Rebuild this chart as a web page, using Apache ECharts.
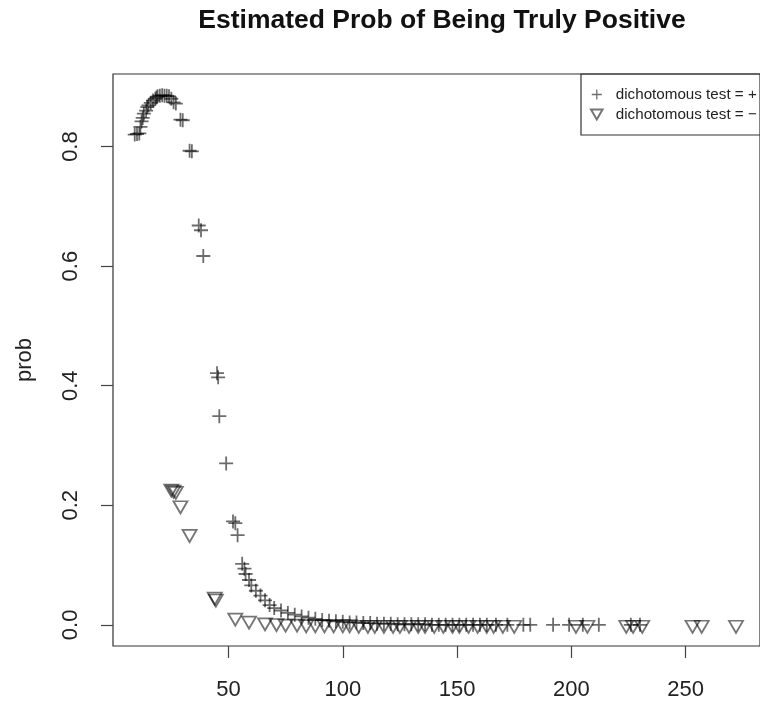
<!DOCTYPE html>
<html>
<head>
<meta charset="utf-8">
<script src="https://cdn.jsdelivr.net/npm/echarts@6/dist/echarts.min.js"></script>
<style>
html,body{margin:0;padding:0;background:#fff;}
#chart{width:760px;height:703px;}
</style>
</head>
<body>
<div id="chart"></div>
<script>
// ---- data ----
const titleText = 'Estimated Prob of Being Truly Positive';
const yName = 'prob';
const seriesNames = ['dichotomous test = +', 'dichotomous test = \u2212'];
const xTicks = [50, 100, 150, 200, 250];
const yTicks = [0, 0.2, 0.4, 0.6, 0.8];

const plusX = [9, 10, 11, 11.5, 12, 12.5, 13, 14, 14.5, 15, 16, 17, 18, 18.5, 19, 20, 21, 22, 23, 24, 25, 26, 27, 29, 30, 33, 34, 37, 38, 39,
  45, 45.5, 46, 49, 52, 53, 54, 56, 57, 57.5, 59, 60, 62, 64, 66, 68, 70, 73, 76, 79, 82, 85, 88, 91, 94, 97, 100, 103, 106, 109,
  112, 115, 118, 121, 124, 127, 130, 133, 136, 139, 142, 145, 148, 151, 154, 157, 160, 163, 167, 172, 179, 182, 192, 199, 205, 212, 226, 230];
const plusY = [0.820, 0.821, 0.822, 0.833, 0.842, 0.848, 0.855, 0.860, 0.866, 0.869, 0.873, 0.877, 0.880, 0.882, 0.884, 0.885, 0.886, 0.885, 0.885, 0.884, 0.880, 0.874, 0.872, 0.845, 0.844, 0.793, 0.792, 0.668, 0.660, 0.617,
  0.421, 0.414, 0.349, 0.270, 0.173, 0.170, 0.150, 0.102, 0.094, 0.085, 0.075, 0.066, 0.057, 0.049, 0.041, 0.033, 0.028, 0.024, 0.020, 0.017, 0.014, 0.012, 0.010, 0.008, 0.007, 0.006, 0.005, 0.004, 0.004, 0.003,
  0.003, 0.002, 0.002, 0.002, 0.001, 0.001, 0.001, 0.001, 0.001, 0, 0, 0, 0, 0, 0, 0, 0, 0, 0, 0, 0, 0, 0, 0, 0, 0, 0, 0];

const triX = [25, 26, 27, 29, 33, 44, 44.5, 53, 59, 66, 71, 75, 80, 84, 88, 92, 96, 100, 103, 107, 111, 114, 118, 122, 125, 129, 133, 136,
  140, 144, 148, 151, 155, 159, 163, 166, 170, 175, 202, 207, 224, 227, 231, 253, 257, 272];
const triY = [0.228, 0.226, 0.224, 0.200, 0.152, 0.047, 0.044, 0.012, 0.007, 0.004, 0.003, 0.002, 0.002, 0.001, 0.001, 0.001, 0.001, 0.001, 0.001, 0, 0, 0, 0, 0, 0, 0, 0, 0,
  0, 0, 0, 0, 0, 0, 0, 0, 0, 0, 0, 0, 0, 0, 0, 0, 0, 0];

// ---- chart ----
const plusData = plusX.map((x, i) => [x, plusY[i]]);
const triData = triX.map((x, i) => [x, triY[i]]);

const plusPath = 'path://M6.1,0 H7.9 V6.1 H14 V7.9 H7.9 V14 H6.1 V7.9 H0 V6.1 H6.1 Z';
const triPath = 'path://M0,0 L14,0 L7,12.1 Z';

const chart = echarts.init(document.getElementById('chart'), null, {renderer: 'canvas'});
chart.setOption({
  backgroundColor: '#ffffff',
  animation: false,
  title: {
    text: titleText,
    left: 442,
    textAlign: 'center',
    top: 7,
    padding: 0,
    textStyle: {fontFamily: 'Liberation Sans', fontWeight: 'bold', fontSize: 26.5, color: '#111'}
  },
  legend: {
    orient: 'vertical',
    left: 581,
    top: 74,
    padding: [13, 40, 13, 9],
    itemGap: 5,
    itemWidth: 28,
    itemHeight: 10,
    borderColor: '#333',
    borderWidth: 1.2,
    symbolKeepAspect: true,
    data: [
      {name: seriesNames[0], icon: plusPath},
      {name: seriesNames[1], icon: triPath}
    ],
    textStyle: {fontFamily: 'Liberation Sans', fontSize: 15.2, color: '#222', lineHeight: 14}
  },
  grid: {
    left: 113, top: 74, width: 653, height: 572,
    show: true, borderColor: '#333', borderWidth: 1.2, backgroundColor: 'transparent'
  },
  xAxis: {
    type: 'value',
    min: -0.5, max: 282.5,
    axisLine: {show: false, onZero: false},
    splitLine: {show: false},
    axisTick: {show: true, customValues: xTicks, length: 12, lineStyle: {color: '#444', width: 1.2}},
    axisLabel: {customValues: xTicks, margin: 33, fontFamily: 'Liberation Sans', fontSize: 22, color: '#222'}
  },
  yAxis: {
    type: 'value',
    min: -0.0354, max: 0.9214,
    name: yName,
    nameLocation: 'middle',
    nameRotate: 90,
    nameGap: 77,
    nameTextStyle: {fontFamily: 'Liberation Sans', fontSize: 22, color: '#222'},
    axisLine: {show: false, onZero: false},
    splitLine: {show: false},
    axisTick: {show: true, customValues: yTicks, length: 12, lineStyle: {color: '#444', width: 1.2}},
    axisLabel: {customValues: yTicks, rotate: 90, margin: 31, fontFamily: 'Liberation Sans', fontSize: 22, color: '#222',
      formatter: v => v.toFixed(1)}
  },
  series: [
    {
      name: seriesNames[0],
      type: 'scatter',
      data: plusData,
      symbol: plusPath,
      symbolSize: 14,
      itemStyle: {color: 'rgba(0,0,0,0.72)'},
      z: 3
    },
    {
      name: seriesNames[1],
      type: 'scatter',
      data: triData,
      symbol: triPath,
      symbolSize: [14, 12.1],
      symbolOffset: [0, 2],
      itemStyle: {color: 'rgba(0,0,0,0)', borderColor: 'rgba(0,0,0,0.68)', borderWidth: 1.8},
      z: 2
    }
  ]
});
</script>
</body>
</html>
